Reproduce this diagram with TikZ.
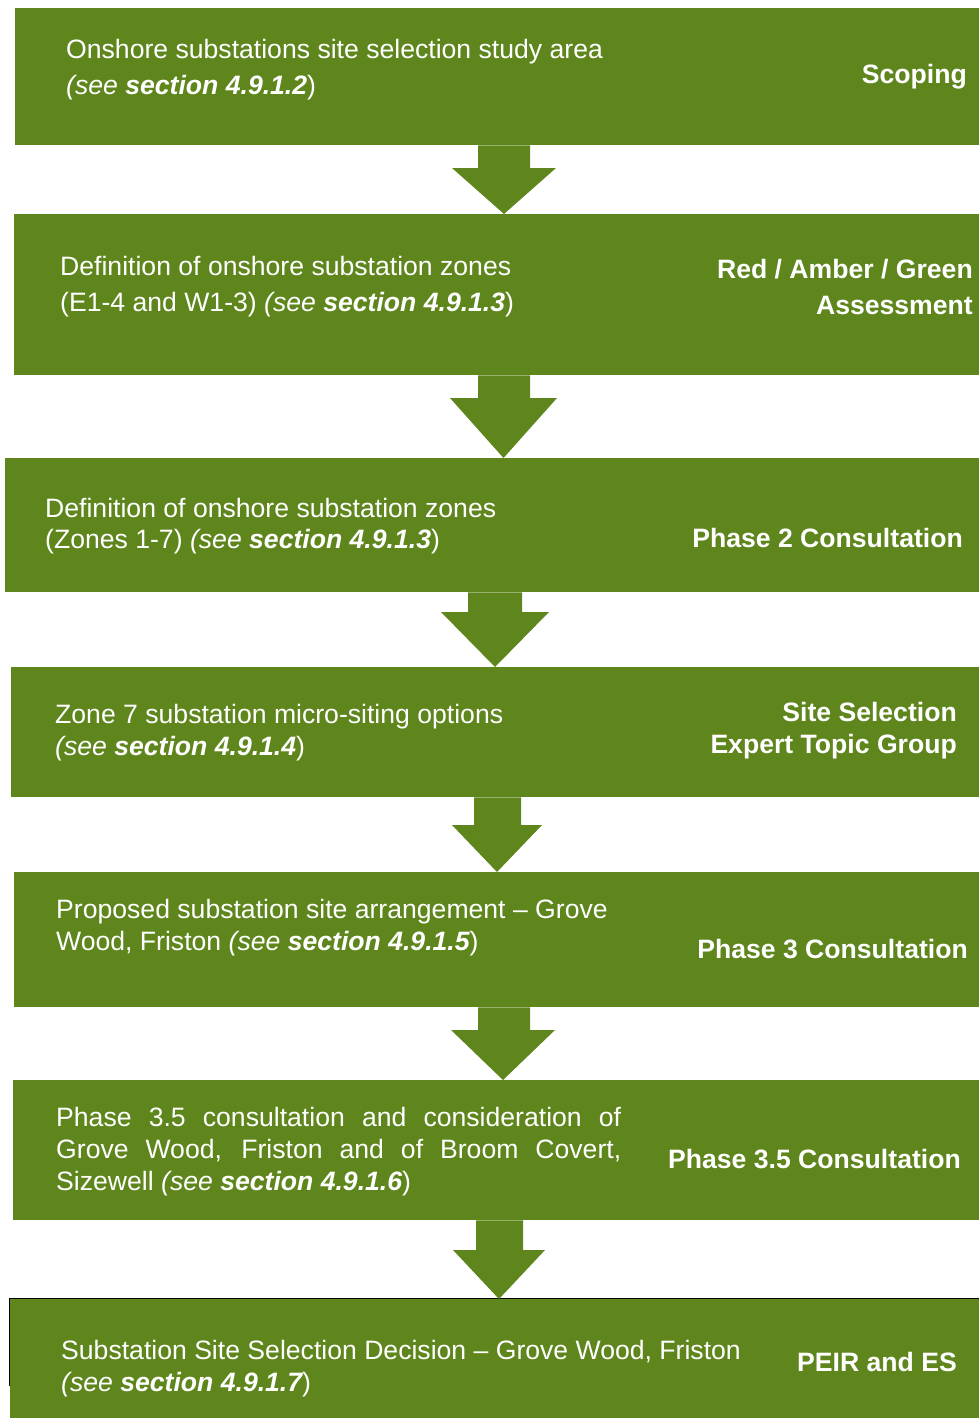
\documentclass[tikz,border=0pt]{standalone}
\usepackage{fontspec}
\setmainfont{Liberation Sans}
\usetikzlibrary{calc}
\definecolor{leaf}{RGB}{94,134,28}

% block arrow from one stage down to the next:
% from, to, shaft left, shaft right, head left, head right, head top
\newcommand\flowarrow[7]{%
  \pgfmathsetmacro\tipx{(#5+#6)/2}
  \fill[leaf] (#3,0 |- #1.south) -- (#3,#7) -- (#5,#7) -- (\tipx,0 |- #2.north)
    -- (#6,#7) -- (#4,#7) -- (#4,0 |- #1.south) -- cycle;}

\begin{document}
\begin{tikzpicture}[x=1pt,y=-1pt,
  stage/.style={fill=leaf,inner sep=0pt,anchor=north west},
  note/.style={text=white,inner sep=0pt,anchor=base west,align=left},
  phase/.style={text=white,inner sep=0pt,anchor=base east,align=right,font=\bfseries\fontsize{26.6}{32}\selectfont}]
\useasboundingbox (0,0) rectangle (979,1418);

\node[stage,minimum width=964pt,minimum height=137pt] (box1) at (15,8) {};
\node[stage,minimum width=965pt,minimum height=161pt] (box2) at (14,214) {};
\node[stage,minimum width=974pt,minimum height=134pt] (box3) at (5,458) {};
\node[stage,minimum width=968pt,minimum height=130pt] (box4) at (11,667) {};
\node[stage,minimum width=965pt,minimum height=135pt] (box5) at (14,872) {};
\node[stage,minimum width=966pt,minimum height=140pt] (box6) at (13,1080) {};
\node[stage,minimum width=969pt,minimum height=119pt] (box7) at (10,1299) {};
\draw[line width=1pt] ($(box7.north west)+(-1,87)$) |- ($(box7.north east)+(0,-1)$);

\flowarrow{box1}{box2}{478}{530}{452}{556}{168}
\flowarrow{box2}{box3}{478}{530}{450}{557}{398}
\flowarrow{box3}{box4}{468}{522}{441}{549}{612}
\flowarrow{box4}{box5}{474}{521}{452}{542}{825}
\flowarrow{box5}{box6}{478}{530}{451}{555}{1030}
\flowarrow{box6}{box7}{476}{523}{453}{545}{1250}

% two-line notes sit on the baseline of their last line
\node[note,font=\fontsize{26.6}{36}\selectfont] (t1) at (66,95)
  {Onshore substations site selection study area\\{\itshape (see \bfseries section 4.9.1.2})};
\node[note,font=\fontsize{26.6}{36}\selectfont] (t2) at (60,311)
  {Definition of onshore substation zones\\(E1-4 and W1-3) {\itshape (see \bfseries section 4.9.1.3})};
\node[note,font=\fontsize{26.6}{31}\selectfont] (t3) at (45,548)
  {Definition of onshore substation zones\\(Zones 1-7) {\itshape (see \bfseries section 4.9.1.3})};
\node[note,font=\fontsize{26.6}{32}\selectfont] (t4) at (55,755)
  {Zone 7 substation micro-siting options\\{\itshape (see \bfseries section 4.9.1.4})};
\node[note,font=\fontsize{26.6}{32}\selectfont] (t5) at (56,950)
  {Proposed substation site arrangement -- Grove\\Wood, Friston {\itshape (see \bfseries section 4.9.1.5})};
\node[note,text width=565pt,align=justify,font=\fontsize{26.6}{32}\selectfont] (t6) at (56,1126)
  {Phase 3.5 consultation and consideration of\linebreak Grove Wood, Friston and of Broom Covert,\linebreak Sizewell {\itshape (see \bfseries section 4.9.1.6})};
\node[note,font=\fontsize{26.6}{32}\selectfont] (t7) at (61,1391)
  {Substation Site Selection Decision -- Grove Wood, Friston\\{\itshape (see \bfseries section 4.9.1.7})};

\node[phase] (p1) at (967,84) {Scoping};
\node[phase,font=\bfseries\fontsize{26.6}{36}\selectfont] (p2) at (973,314) {Red / Amber / Green\\Assessment};
\node[phase] (p3) at (963,547) {Phase 2 Consultation};
\node[phase] (p4) at (957,753) {Site Selection\\Expert Topic Group};
\node[phase] (p5) at (968,958) {Phase 3 Consultation};
\node[phase] (p6) at (961,1168) {Phase 3.5 Consultation};
\node[phase] (p7) at (957,1371) {PEIR and ES};
\end{tikzpicture}
\end{document}
